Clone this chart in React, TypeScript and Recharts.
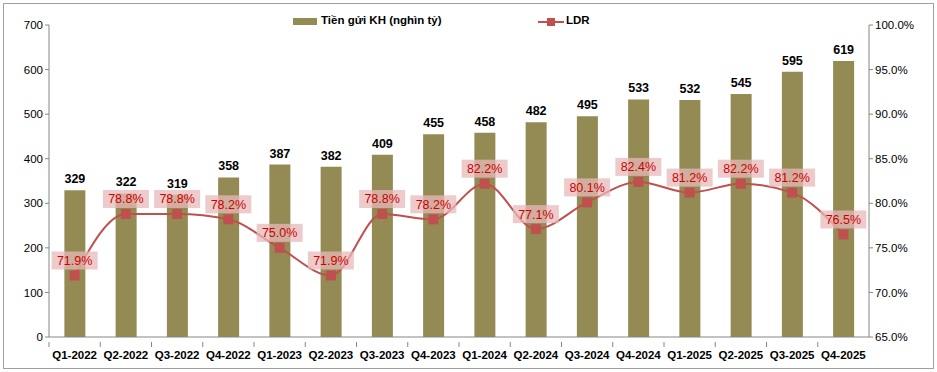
import React from 'react';
import { ComposedChart, Bar, Line, XAxis, YAxis, LabelList } from 'recharts';

const quarters = [
  'Q1-2022', 'Q2-2022', 'Q3-2022', 'Q4-2022',
  'Q1-2023', 'Q2-2023', 'Q3-2023', 'Q4-2023',
  'Q1-2024', 'Q2-2024', 'Q3-2024', 'Q4-2024',
  'Q1-2025', 'Q2-2025', 'Q3-2025', 'Q4-2025',
];
const deposits = [329, 322, 319, 358, 387, 382, 409, 455, 458, 482, 495, 533, 532, 545, 595, 619];
const ldr = [71.9, 78.8, 78.8, 78.2, 75.0, 71.9, 78.8, 78.2, 82.2, 77.1, 80.1, 82.4, 81.2, 82.2, 81.2, 76.5];
const leftTicks = [0, 100, 200, 300, 400, 500, 600, 700];
const rightTicks = [65, 70, 75, 80, 85, 90, 95, 100];

const BAR = '#948A54';
const RED = '#C0504D';
const AXIS = '#868686';
const FONT = '"Liberation Sans", Arial, sans-serif';

const data = quarters.map((q, i) => ({ q, deposit: deposits[i], ldr: ldr[i] }));

const LdrLabel = (props: any) => {
  const { x, y, value } = props;
  const cy = y - 15;
  return (
    <g>
      <rect x={x - 23} y={cy - 9} width={46} height={18} fill="#E6B9B8" fillOpacity={0.75} />
      <text x={x} y={cy + 4.5} textAnchor="middle" fontSize={12.5} fontFamily={FONT} fill="#D00000">
        {value.toFixed(1)}%
      </text>
    </g>
  );
};

const XTick = (props: any) => {
  const { x, y, payload } = props;
  const half = 51.25 / 2;
  return (
    <g>
      <line x1={x - half} y1={y - 3} x2={x - half} y2={y + 2} stroke={AXIS} />
      <text x={x} y={y + 14} textAnchor="middle" fontSize={11.5} fontWeight="bold" fontFamily={FONT} fill="#000">
        {payload.value}
      </text>
    </g>
  );
};

const LegendBox = () => (
  <div style={{ position: 'absolute', left: 0, top: 14, width: 937, height: 16, fontFamily: FONT, fontSize: 11.5, fontWeight: 'bold' }}>
    <div style={{ position: 'absolute', left: 293, top: 4, width: 24, height: 7, background: BAR }} />
    <span style={{ position: 'absolute', left: 321, top: 0 }}>Tiền gửi KH (nghìn tỷ)</span>
    <svg style={{ position: 'absolute', left: 538, top: 2 }} width={26} height={12}>
      <line x1={0} y1={6} x2={26} y2={6} stroke={RED} strokeWidth={2} />
      <rect x={9} y={2} width={8} height={8} fill={RED} />
    </svg>
    <span style={{ position: 'absolute', left: 566, top: 0 }}>LDR</span>
  </div>
);

export default function App() {
  return (
    <div style={{ position: 'absolute', left: 0, top: 0, width: 937, height: 372, background: '#fff' }}>
      <div style={{ position: 'absolute', left: 3, top: 3, width: 929, height: 364, border: '1px solid #A0A0A0' }} />
      <ComposedChart
        width={937}
        height={372}
        data={data}
        margin={{ top: 25, right: 8, left: 0, bottom: 10 }}
        barCategoryGap="30%"
      >
        <XAxis
          dataKey="q"
          height={25}
          stroke={AXIS}
          tickLine={false}
          tick={<XTick />}
          interval={0}
        />
        <YAxis
          yAxisId="left"
          width={49}
          domain={[0, 700]}
          ticks={leftTicks}
          stroke={AXIS}
          tickSize={4}
          tick={{ fontSize: 11.5, fill: '#000', fontFamily: FONT }}
        />
        <YAxis
          yAxisId="right"
          orientation="right"
          width={60}
          domain={[65, 100]}
          ticks={rightTicks}
          stroke={AXIS}
          tickSize={4}
          tickFormatter={(v: number) => `${v.toFixed(1)}%`}
          tick={{ fontSize: 11.5, fill: '#000', fontFamily: FONT }}
        />
        <Bar yAxisId="left" dataKey="deposit" fill={BAR} isAnimationActive={false}>
          <LabelList
            dataKey="deposit"
            position="top"
            offset={7}
            style={{ fontSize: 12.5, fontWeight: 'bold', fill: '#000', fontFamily: FONT }}
          />
        </Bar>
        <Line
          yAxisId="right"
          dataKey="ldr"
          type="monotone"
          stroke={RED}
          strokeWidth={2}
          dot={(p: any) => <rect key={p.index} x={p.cx - 5} y={p.cy - 5} width={10} height={10} fill={RED} />}
          activeDot={false}
          isAnimationActive={false}
        >
          <LabelList dataKey="ldr" content={<LdrLabel />} />
        </Line>
      </ComposedChart>
      <LegendBox />
    </div>
  );
}
